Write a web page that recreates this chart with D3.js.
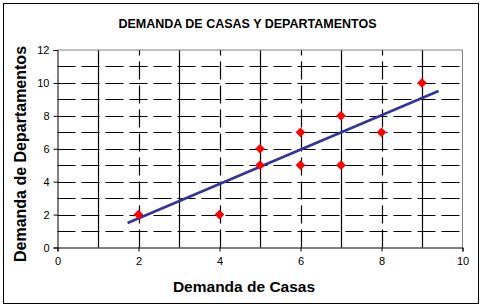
<!DOCTYPE html>
<html><head><meta charset="utf-8">
<script src="https://cdn.jsdelivr.net/npm/d3@7"></script>
<style>body{margin:0;background:#fff}svg{display:block;font-family:Arial,"Liberation Sans",sans-serif}</style>
</head><body><svg id="c" width="484" height="308"></svg>
<script>
const casas = [2, 4, 5, 5, 6, 6, 7, 7, 8, 9];
const departamentos = [2, 2, 6, 5, 7, 5, 8, 5, 7, 10];
const trendX = [1.73, 9.41];
const trendY = [1.49, 9.51];
const xTicks = [0, 2, 4, 6, 8, 10];
const yTicks = [0, 2, 4, 6, 8, 10, 12];
const solidVGrid = [1, 3, 5, 7, 9];
const dashedVGrid = [2, 4, 6, 8];
const dashedHGrid = [1, 2, 3, 4, 5, 6, 7, 8, 9, 10, 11];

const svg = d3.select("#c");
const L = 57.5, R = 462.5, T = 50, B = 247.5;
const x = d3.scaleLinear().domain([0, 10]).range([L, R]);
const y = d3.scaleLinear().domain([0, 12]).range([B, T]);

svg.append("rect").attr("x", 3.5).attr("y", 3.5).attr("width", 475).attr("height", 300)
  .attr("fill", "#fff").attr("stroke", "#000").attr("stroke-width", 1);

svg.append("text").attr("x", 247.5).attr("y", 27.5).attr("text-anchor", "middle")
  .attr("font-size", 12.5).attr("font-weight", "bold").text("DEMANDA DE CASAS Y DEPARTAMENTOS");

const g = svg.append("g");
g.selectAll(".hg").data(dashedHGrid).enter().append("line")
  .attr("x1", L).attr("x2", R).attr("y1", d => Math.round(y(d)) + 0.5).attr("y2", d => Math.round(y(d)) + 0.5)
  .attr("stroke", "#000").attr("stroke-width", 1.2).attr("stroke-dasharray", "18,6");
g.selectAll(".vd").data(dashedVGrid).enter().append("line")
  .attr("x1", d => Math.round(x(d)) + 0.5).attr("x2", d => Math.round(x(d)) + 0.5).attr("y1", B).attr("y2", T)
  .attr("stroke", "#000").attr("stroke-width", 1.2).attr("stroke-dasharray", "18,6");
g.selectAll(".vs").data(solidVGrid).enter().append("line")
  .attr("x1", d => Math.round(x(d)) + 0.5).attr("x2", d => Math.round(x(d)) + 0.5).attr("y1", B).attr("y2", T)
  .attr("stroke", "#000").attr("stroke-width", 1.2);

svg.append("path").attr("d", `M${L},${T}H${R}V${B}`).attr("fill", "none").attr("stroke", "#808080").attr("stroke-width", 1);

const xAxis = svg.append("g").attr("transform", `translate(0,${B})`)
  .call(d3.axisBottom(x).tickValues(xTicks).tickSize(4).tickPadding(6).tickFormat(d3.format("d")));
const yAxis = svg.append("g").attr("transform", `translate(${L},0)`)
  .call(d3.axisLeft(y).tickValues(yTicks).tickSize(4).tickPadding(4).tickFormat(d3.format("d")));
[xAxis, yAxis].forEach(a => {
  a.select(".domain").attr("stroke", "#000");
  a.selectAll("text").attr("font-size", 11).attr("font-family", "Arial, 'Liberation Sans', sans-serif").attr("fill", "#000");
});

svg.append("line").attr("x1", x(trendX[0])).attr("y1", y(trendY[0])).attr("x2", x(trendX[1])).attr("y2", y(trendY[1]))
  .attr("stroke", "#333399").attr("stroke-width", 2.5);

const sym = d3.symbol().type(d3.symbolDiamond2).size(60);
svg.selectAll(".pt").data(casas).enter().append("path")
  .attr("d", sym).attr("transform", (d, i) => `translate(${x(d)},${y(departamentos[i])})`)
  .attr("fill", "#ff0000");

svg.append("text").attr("x", 244).attr("y", 292).attr("text-anchor", "middle")
  .attr("font-size", 15.5).attr("font-weight", "bold").text("Demanda de Casas");
svg.append("text").attr("transform", "translate(26,154) rotate(-90)").attr("text-anchor", "middle")
  .attr("font-size", 16).attr("font-weight", "bold").text("Demanda de Departamentos");
</script></body></html>
